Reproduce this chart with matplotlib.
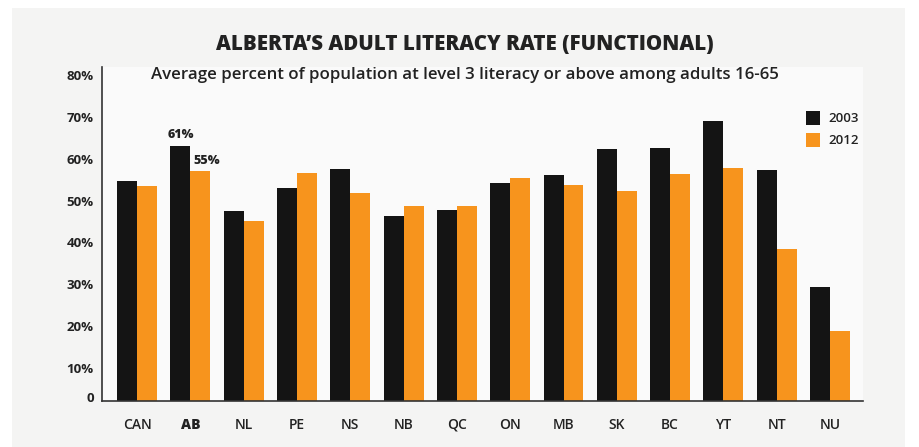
import numpy as np
import matplotlib
matplotlib.use("Agg")
import matplotlib.pyplot as plt
from matplotlib.patches import Rectangle
from matplotlib.transforms import ScaledTranslation

# datos
provinces = ["CAN", "AB", "NL", "PE", "NS", "NB", "QC", "ON", "MB", "SK", "BC", "YT", "NT", "NU"]
rate_2003 = [52.7, 61.0, 45.5, 50.9, 55.5, 44.3, 45.7, 52.3, 54.2, 60.3, 60.6, 67.1, 55.3, 27.2]
rate_2012 = [51.5, 55.0, 43.1, 54.7, 49.9, 46.6, 46.7, 53.4, 51.8, 50.3, 54.3, 55.8, 36.3, 16.8]
y_ticks = [0, 10, 20, 30, 40, 50, 60, 70, 80]
y_labels = ["0", "10%", "20%", "30%", "40%", "50%", "60%", "70%", "80%"]

black = "#141414"
orange = "#f7941d"
txt = "#222222"

plt.rcParams['font.family'] = ['Open Sans', 'DejaVu Sans']

fig = plt.figure(figsize=(9.19, 4.47), dpi=100, facecolor="white")
fig.patches.append(Rectangle((12/919, 0), (905-12)/919, 1 - 8/447,
                             transform=fig.transFigure, facecolor="#f4f4f3",
                             edgecolor="none", zorder=-10))

ax = fig.add_axes([102/919, 1 - 401/447, (863-102)/919, (401-67)/447])
ax.set_facecolor("#fafafa")

x = np.arange(len(provinces))
w = 0.375
ax.bar(x - w/2, rate_2003, w, color=black, label="2003", zorder=2)
ax.bar(x + w/2, rate_2012, w, color=orange, label="2012", zorder=2)

ax.set_xlim(-0.66, 13.62)
ax.set_ylim(0, 80)

for s in ["top", "right"]:
    ax.spines[s].set_visible(False)
ax.spines["left"].set_color("#333333")
ax.spines["bottom"].set_color("#333333")
ax.spines["left"].set_linewidth(1.2)
ax.spines["bottom"].set_linewidth(1.2)

ax.set_yticks(y_ticks)
ax.set_yticklabels(y_labels, fontsize=9.5, fontweight="bold", color=txt)
ax.tick_params(axis="y", length=0, pad=6)
# las etiquetas del original quedan un poco mas abajo (el 0 un poco mas arriba)
for lab in ax.get_yticklabels():
    dy = 3/72 if lab.get_text() == "0" else -6/72
    lab.set_transform(lab.get_transform() + ScaledTranslation(0, dy, fig.dpi_scale_trans))

ax.set_xticks(x)
ax.set_xticklabels(provinces, fontsize=10, color=txt)
ax.tick_params(axis="x", length=0, pad=12)
for lab in ax.get_xticklabels():
    if lab.get_text() == "AB":
        lab.set_fontweight("heavy")
    else:
        lab.set_fontweight("semibold")

# etiquetas de AB
ab = provinces.index("AB")
ax.text(x[ab] - w/2, rate_2003[ab] + 1.2, "%d%%" % round(rate_2003[ab]),
        ha="center", va="bottom", fontsize=9, fontweight="heavy", color=txt)
ax.text(x[ab] + w/2 + 0.12, rate_2012[ab] + 1.0, "%d%%" % round(rate_2012[ab]),
        ha="center", va="bottom", fontsize=9, fontweight="heavy", color=txt)

fig.text(465/919, 1 - 45/447, "ALBERTA\u2019S ADULT LITERACY RATE (FUNCTIONAL)",
         ha="center", va="center", fontsize=14.8, fontweight="heavy", color=txt)
fig.text(465/919, 1 - 75/447,
         "Average percent of population at level 3 literacy or above among adults 16-65",
         ha="center", va="center", fontsize=12.2, fontweight="semibold", color=txt)

leg = ax.legend(loc="upper left", bbox_to_anchor=(794/919, 1 - 99/447),
                bbox_transform=fig.transFigure, frameon=False, fontsize=9.5,
                handlelength=1.1, handleheight=1.3, handletextpad=0.6,
                labelspacing=0.55)
for t in leg.get_texts():
    t.set_fontweight("semibold")
    t.set_color(txt)

fig.savefig("out.png", dpi=100, facecolor=fig.get_facecolor())
